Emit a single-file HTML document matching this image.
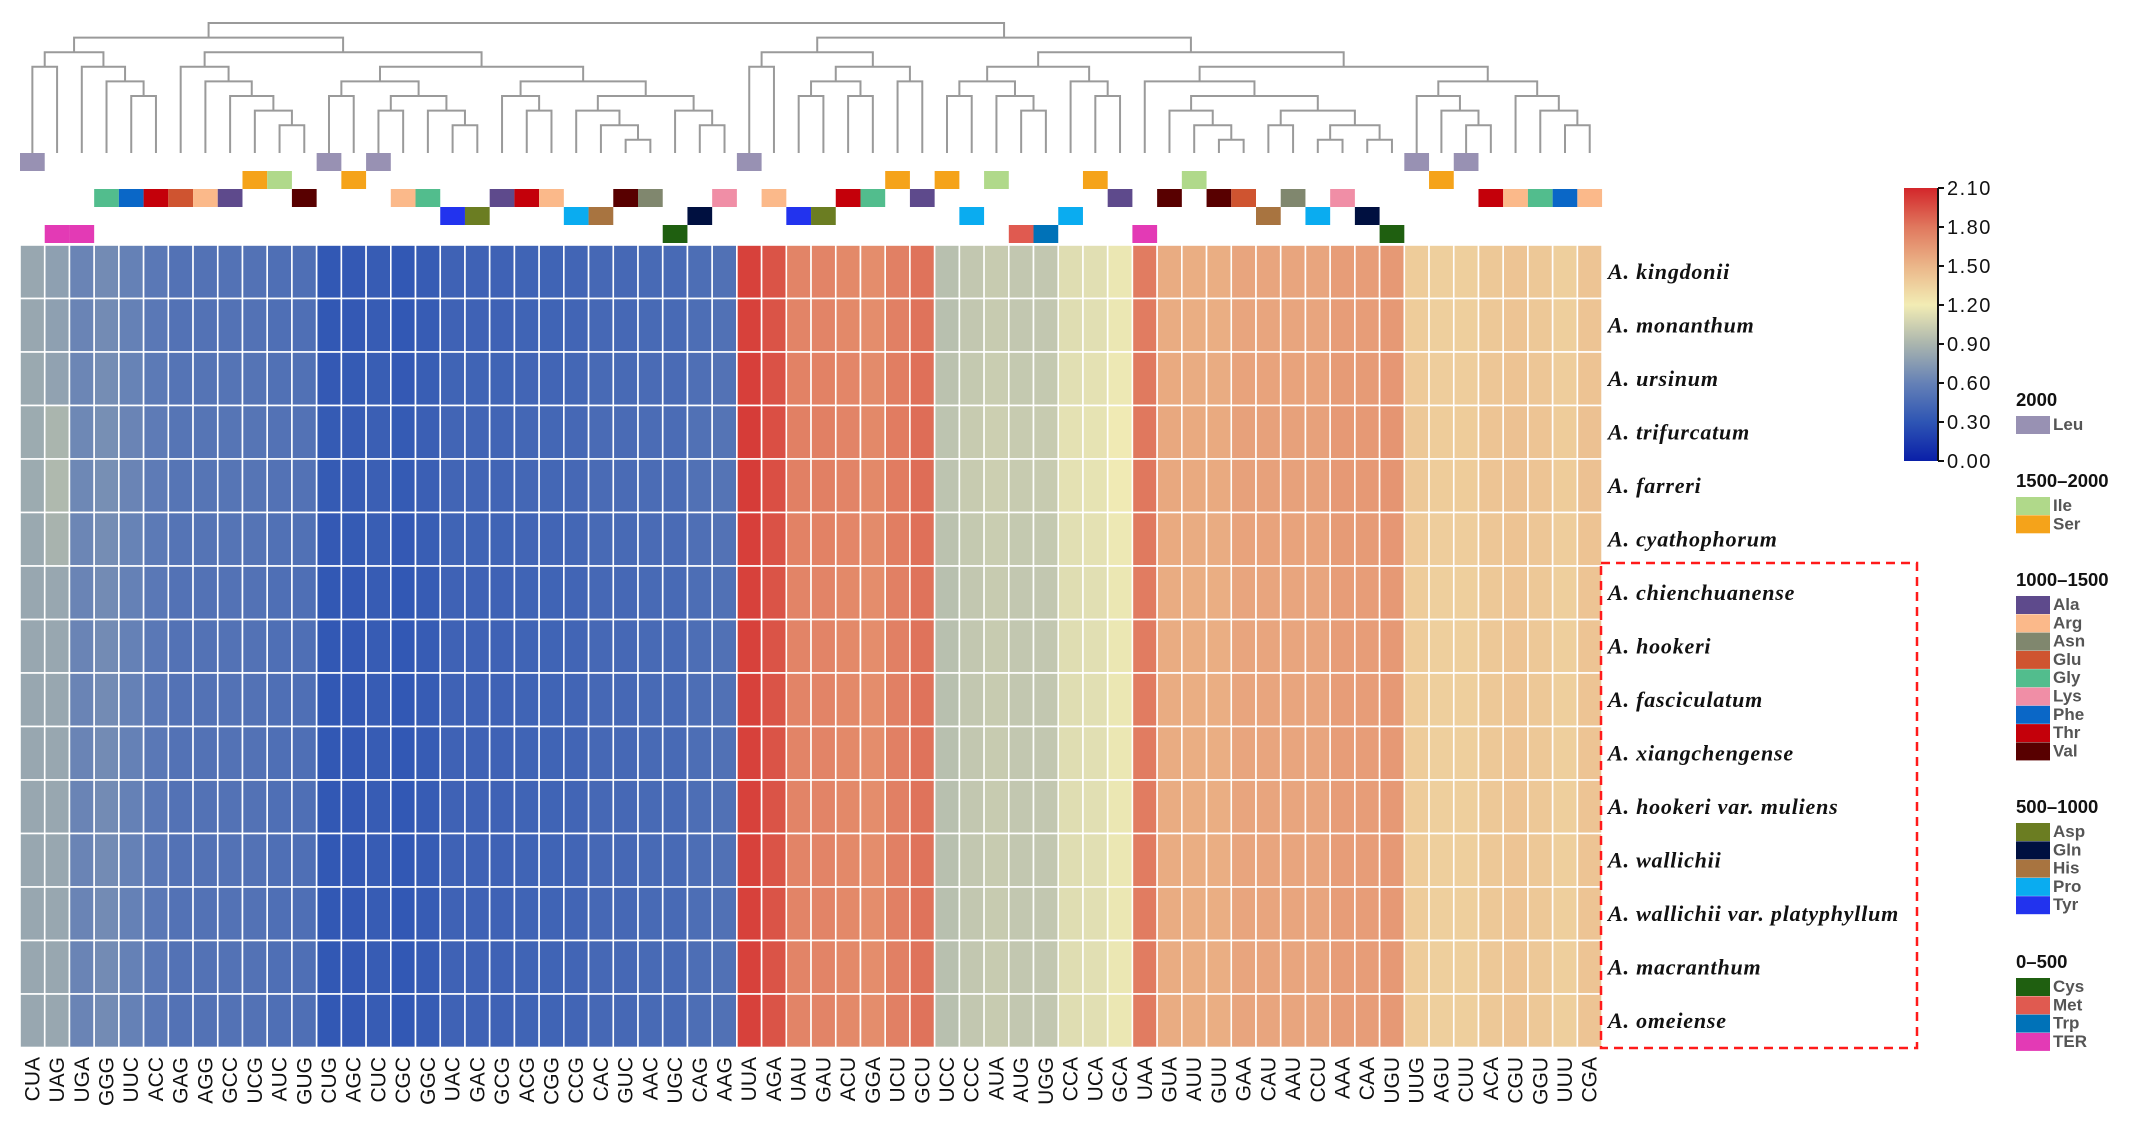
<!DOCTYPE html>
<html><head><meta charset="utf-8"><style>
html,body{margin:0;padding:0;background:#fff;}
svg{display:block;font-family:"Liberation Sans",sans-serif;}
</style></head><body>
<svg id="chart" width="2139" height="1142" viewBox="0 0 2139 1142" xmlns="http://www.w3.org/2000/svg">
<g id="dendro"></g>
<g id="annot"></g>
<g id="heat"></g>
<g id="xlabels"></g>
<g id="ylabels"></g>
<rect x="1601" y="563" width="316" height="485" fill="none" stroke="#ff1a1a" stroke-width="2.5" stroke-dasharray="9,6"/>
<defs><linearGradient id="cbg" x1="0" y1="1" x2="0" y2="0"></linearGradient></defs>
<g id="cbar"></g>
<g id="legend"></g>
</svg>
<script>
const codons=["CUA","UAG","UGA","GGG","UUC","ACC","GAG","AGG","GCC","UCG","AUC","GUG","CUG","AGC","CUC","CGC","GGC","UAC","GAC","GCG","ACG","CGG","CCG","CAC","GUC","AAC","UGC","CAG","AAG","UUA","AGA","UAU","GAU","ACU","GGA","UCU","GCU","UCC","CCC","AUA","AUG","UGG","CCA","UCA","GCA","UAA","GUA","AUU","GUU","GAA","CAU","AAU","CCU","AAA","CAA","UGU","UUG","AGU","CUU","ACA","CGU","GGU","UUU","CGA"];
const rscu=[0.82,0.78,0.62,0.66,0.60,0.54,0.50,0.50,0.50,0.50,0.48,0.48,0.32,0.33,0.35,0.32,0.35,0.39,0.39,0.39,0.40,0.40,0.41,0.43,0.43,0.44,0.44,0.47,0.49,2.00,1.93,1.74,1.74,1.72,1.70,1.76,1.82,0.96,1.00,1.02,1.00,1.00,1.12,1.13,1.17,1.78,1.55,1.54,1.54,1.58,1.58,1.58,1.58,1.62,1.62,1.64,1.38,1.36,1.36,1.40,1.42,1.40,1.36,1.42];
const species=["A. kingdonii","A. monanthum","A. ursinum","A. trifurcatum","A. farreri","A. cyathophorum","A. chienchuanense","A. hookeri","A. fasciculatum","A. xiangchengense","A. hookeri var. muliens","A. wallichii","A. wallichii var. platyphyllum","A. macranthum","A. omeiense"];
const speciesShift=[0,0,0.01,0.02,0.02,0.01,0,0,0,0,0,0,0,0,0];
const uagShift=[0,0,0,0.1,0.12,0.1,0.04,0.04,0.04,0.04,0.04,0.04,0.04,0.04,0.04];
const cbTicks=[0,0.3,0.6,0.9,1.2,1.5,1.8,2.1];
const cbColors=["#0a1fa8","#2e55b4","#6581b6","#aab5ae","#f2ecb4","#ebb689","#e0785e","#d3262a"];
const aaOf={UUU:"Phe",UUC:"Phe",UUA:"Leu",UUG:"Leu",CUU:"Leu",CUC:"Leu",CUA:"Leu",CUG:"Leu",AUU:"Ile",AUC:"Ile",AUA:"Ile",AUG:"Met",GUU:"Val",GUC:"Val",GUA:"Val",GUG:"Val",UCU:"Ser",UCC:"Ser",UCA:"Ser",UCG:"Ser",AGU:"Ser",AGC:"Ser",CCU:"Pro",CCC:"Pro",CCA:"Pro",CCG:"Pro",ACU:"Thr",ACC:"Thr",ACA:"Thr",ACG:"Thr",GCU:"Ala",GCC:"Ala",GCA:"Ala",GCG:"Ala",UAU:"Tyr",UAC:"Tyr",UAA:"TER",UAG:"TER",UGA:"TER",CAU:"His",CAC:"His",CAA:"Gln",CAG:"Gln",AAU:"Asn",AAC:"Asn",AAA:"Lys",AAG:"Lys",GAU:"Asp",GAC:"Asp",GAA:"Glu",GAG:"Glu",UGU:"Cys",UGC:"Cys",UGG:"Trp",CGU:"Arg",CGC:"Arg",CGA:"Arg",CGG:"Arg",AGA:"Arg",AGG:"Arg",GGU:"Gly",GGC:"Gly",GGA:"Gly",GGG:"Gly"};
const groupTitles=["2000","1500\u20132000","1000\u20131500","500\u20131000","0\u2013500"];
const groupMembers=[["Leu"],["Ile","Ser"],["Ala","Arg","Asn","Glu","Gly","Lys","Phe","Thr","Val"],["Asp","Gln","His","Pro","Tyr"],["Cys","Met","Trp","TER"]];
const aaColor={Leu:"#9891b3",Ile:"#b0d98a",Ser:"#f5a31a",Ala:"#5e4a8c",Arg:"#fbb98a",Asn:"#80876e",Glu:"#cf5430",Gly:"#52bd8d",Lys:"#f08ea6",Phe:"#0a67c7",Thr:"#c4000a",Val:"#580000",Asp:"#6b7d22",Gln:"#001040",His:"#a87440",Pro:"#0aacf0",Tyr:"#2233ee",Cys:"#1f5f10",Met:"#e05a50",Trp:"#0072b8",TER:"#e33ab5"};
const treeL=[1,[2,[3,0,1],[3,2,[4,3,[5,4,5]]]],[2,[3,6,[4,7,[5,8,[6,9,[7,10,11]]]]],[3,[4,[5,12,13],[5,[6,14,15],[6,16,[7,17,18]]]],[4,[5,19,[6,20,21]],[5,[6,22,[7,23,[8,24,25]]],[6,26,[7,27,28]]]]]]];
const treeR=[1,[2,[3,29,30],[3,[4,[5,31,32],[5,33,34]],[4,35,36]]],[2,[3,[4,[5,37,38],[5,39,[6,40,41]]],[4,42,[5,43,44]]],[3,[4,45,[5,[6,46,[7,47,[8,48,49]]],[6,[7,50,51],[7,[8,52,53],[8,54,55]]]]],[4,[5,56,[6,57,[7,58,59]]],[5,60,[6,61,[7,62,63]]]]]]];
const tree=[0,treeL,treeR];

const NS="http://www.w3.org/2000/svg";
function mk(tag,attrs,parent){const e=document.createElementNS(NS,tag);for(const k in attrs)e.setAttribute(k,attrs[k]);parent.appendChild(e);return e;}
const X0=20,CW=24.72,Y0=245,RH=53.5;
const xPos=i=>X0+i*CW;
const yPos=r=>Y0+r*RH;
const vmax=2.1;
function hex(h){return [1,3,5].map(i=>parseInt(h.substr(i,2),16));}
function colorOf(v){v=Math.max(0,Math.min(vmax,v));let i=Math.min(cbTicks.length-2,Math.floor(v/0.3));const t=(v-cbTicks[i])/(cbTicks[i+1]-cbTicks[i]);const a=hex(cbColors[i]),b=hex(cbColors[i+1]);return "rgb("+a.map((c,k)=>Math.round(c+(b[k]-c)*t)).join(",")+")";}

const heat=document.getElementById('heat');
species.forEach((sp,r)=>{codons.forEach((c,i)=>{
  let v=rscu[i]+speciesShift[r];if(c==="UAG")v+=uagShift[r];
  const el=mk('rect',{x:xPos(i),y:yPos(r),width:CW,height:RH,fill:colorOf(v),stroke:"#fff","stroke-width":1.6},heat);
  
  
});});
const xl=document.getElementById('xlabels');
codons.forEach((c,i)=>{const cx=xPos(i)+CW/2+7;const t=mk('text',{x:cx,y:1057,transform:`rotate(-90 ${cx} 1057)`,"text-anchor":"end","font-size":21,fill:"#111"},xl);t.textContent=c;

});
const yl=document.getElementById('ylabels');
species.forEach((s,r)=>{const t=mk('text',{x:1608,y:yPos(r)+RH/2+7,"font-size":22,"letter-spacing":"0.8","font-weight":"bold","font-style":"italic","font-family":"Liberation Serif,serif",fill:"#111"},yl);t.textContent=s;

});
const an=document.getElementById('annot');
const rowY=[153,171,189,207,225],rowH=[18,18,18,18,18];
codons.forEach((c,i)=>{const aa=aaOf[c];const g=groupMembers.findIndex(m=>m.includes(aa));
  const el=mk('rect',{x:xPos(i),y:rowY[g],width:CW,height:rowH[g],fill:aaColor[aa]},an);
  
  });
const dg=document.getElementById('dendro');
const lvY=lv=>23+lv*14.6;
function draw(n){if(typeof n==="number")return {x:xPos(n)+CW/2,y:153};
  const a=draw(n[1]),b=draw(n[2]);const y=lvY(n[0]);
  const p=mk('path',{d:`M${a.x},${a.y}V${y}H${b.x}V${b.y}`,fill:"none",stroke:"#9a9a9a","stroke-width":2},dg);
  
  
  return {x:(a.x+b.x)/2,y:y};}
draw(tree);
const grad=document.getElementById('cbg');
cbTicks.forEach((t,i)=>mk('stop',{offset:t/vmax,"stop-color":cbColors[i]},grad));
const cb=document.getElementById('cbar');
const CBX=1904,CBY=188,CBW=33,CBH=273;
mk('rect',{x:CBX,y:CBY,width:CBW,height:CBH,fill:"url(#cbg)"},cb);
mk('line',{x1:CBX+CBW+1,y1:CBY,x2:CBX+CBW+1,y2:CBY+CBH,stroke:"#111","stroke-width":2},cb);
cbTicks.forEach(t=>{const y=CBY+CBH-t/vmax*CBH;mk('line',{x1:CBX+CBW+1,y1:y,x2:CBX+CBW+7,y2:y,stroke:"#111","stroke-width":2},cb);
 const tx=mk('text',{x:1947,y:y+7,"font-size":20,fill:"#111","letter-spacing":"1.5"},cb);tx.textContent=t.toFixed(2);
 
 });
const lg=document.getElementById('legend');
const titleY=[400,481,580,807,962];
groupTitles.forEach((gt,g)=>{const t=mk('text',{x:2016,y:titleY[g]+6,"font-size":18.5,"font-weight":"bold",fill:"#111"},lg);t.textContent=gt;
 
 
 groupMembers[g].forEach((aa,k)=>{const y=titleY[g]+16+k*18.3;
  const s=mk('rect',{x:2016,y:y,width:34,height:18,fill:aaColor[aa]},lg);
  
  
  const tt=mk('text',{x:2053,y:y+14,"font-size":17,"font-weight":"bold",fill:"#555"},lg);tt.textContent=aa;
  
  });});
</script>
</body></html>
